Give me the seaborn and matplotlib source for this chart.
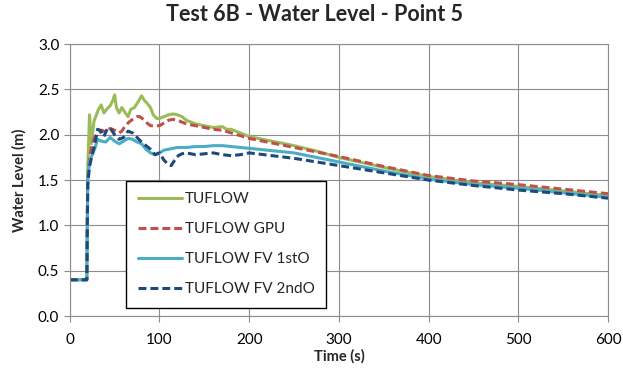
"""
Water level time series at Point 5 for Test 6B, four TUFLOW solvers.
"""

import matplotlib
matplotlib.use('Agg')
import matplotlib.pyplot as plt
import pandas as pd
import seaborn as sns

# Values
t_tuflow = [0, 19, 20, 22, 24, 27, 32, 35, 38, 41, 45, 48, 50, 52, 55, 58, 62, 65, 68, 72, 76, 80,
            83, 86, 90, 93, 97, 100, 105, 110, 115, 120, 125, 130, 135, 140, 150, 160, 170, 175,
            180, 190, 200, 225, 250, 275, 300, 350, 400, 450, 500, 550, 600]
wl_tuflow = [0.4, 0.4, 1.6, 2.22, 1.9, 2.15, 2.28, 2.33, 2.24, 2.28, 2.32, 2.38, 2.44, 2.3, 2.24,
             2.3, 2.24, 2.2, 2.28, 2.3, 2.36, 2.43, 2.38, 2.35, 2.3, 2.22, 2.18, 2.18, 2.2, 2.22,
             2.23, 2.22, 2.2, 2.16, 2.14, 2.12, 2.1, 2.08, 2.09, 2.06, 2.06, 2.02, 1.98, 1.93,
             1.88, 1.82, 1.75, 1.64, 1.54, 1.47, 1.43, 1.38, 1.33]

t_gpu = [0, 19, 20, 22, 25, 28, 32, 36, 40, 45, 50, 55, 58, 62, 66, 70, 75, 78, 82, 86, 90, 95,
         100, 105, 110, 115, 120, 125, 130, 140, 150, 160, 170, 180, 190, 200, 250, 300, 350,
         400, 450, 500, 550, 600]
wl_gpu = [0.4, 0.4, 1.5, 1.75, 1.9, 1.98, 2.02, 2.05, 2.03, 2.07, 2.05, 2.02, 2.04, 2.1, 2.14,
          2.17, 2.2, 2.2, 2.17, 2.13, 2.1, 2.1, 2.1, 2.13, 2.16, 2.17, 2.16, 2.14, 2.12, 2.1,
          2.08, 2.06, 2.05, 2.02, 1.99, 1.96, 1.86, 1.76, 1.65, 1.55, 1.49, 1.45, 1.40, 1.35]

t_fv1 = [0, 19, 20, 22, 25, 28, 31, 35, 40, 45, 50, 55, 60, 65, 70, 75, 80, 85, 90, 95, 100, 105,
         110, 120, 130, 140, 150, 160, 170, 180, 200, 250, 300, 350, 400, 450, 500, 550, 600]
wl_fv1 = [0.4, 0.4, 1.5, 1.7, 1.78, 1.85, 1.95, 1.93, 1.92, 1.97, 1.93, 1.9, 1.93, 1.96, 1.95,
          1.92, 1.9, 1.84, 1.8, 1.78, 1.8, 1.83, 1.84, 1.86, 1.86, 1.87, 1.87, 1.88, 1.88, 1.87,
          1.85, 1.8, 1.7, 1.6, 1.51, 1.45, 1.41, 1.36, 1.31]

t_fv2 = [0, 19, 20, 22, 25, 28, 31, 34, 38, 42, 46, 50, 55, 60, 65, 70, 75, 80, 85, 90, 95, 100,
         105, 110, 113, 117, 121, 125, 130, 140, 150, 160, 170, 180, 190, 200, 225, 250, 300,
         350, 400, 450, 500, 550, 600]
wl_fv2 = [0.4, 0.4, 1.45, 1.65, 1.78, 1.9, 2.06, 2.05, 1.98, 2.07, 2.06, 2.0, 1.95, 1.97, 2.04,
          2.02, 1.97, 1.92, 1.88, 1.84, 1.78, 1.8, 1.72, 1.67, 1.66, 1.72, 1.77, 1.79, 1.8, 1.78,
          1.79, 1.8, 1.78, 1.77, 1.78, 1.8, 1.77, 1.74, 1.66, 1.58, 1.50, 1.44, 1.39, 1.35, 1.30]

labels = ['TUFLOW', 'TUFLOW GPU', 'TUFLOW FV 1stO', 'TUFLOW FV 2ndO']
colors = ['#9BBB59', '#C0504D', '#4BACC6', '#1F497D']
dashed = [False, True, False, True]


def main():
    sns.set_style('white')
    plt.rcParams['font.family'] = ['Lato', 'DejaVu Sans']

    fig = plt.figure(figsize=(6.23, 3.74), dpi=100)
    ax = fig.add_axes([0.112, 0.155, 0.864, 0.727])

    series = [(t_tuflow, wl_tuflow), (t_gpu, wl_gpu), (t_fv1, wl_fv1), (t_fv2, wl_fv2)]
    for (t, wl), label, color, dash in zip(series, labels, colors, dashed):
        df = pd.DataFrame({'Time': t, 'Level': wl})
        sns.lineplot(data=df, x='Time', y='Level', ax=ax, color=color,
                     lw=2.2, label=label, sort=False)
        if dash:
            ax.lines[-1].set_dashes((2.6, 1.3))

    ax.set_xlim(0, 600)
    ax.set_ylim(0, 3.0)
    ax.set_xticks(range(0, 601, 100))
    ax.set_yticks([i * 0.5 for i in range(7)])
    ax.set_yticklabels([f'{i * 0.5:.1f}' for i in range(7)])
    ax.grid(True, color='#8c8c8c', lw=0.8)
    for s in ax.spines.values():
        s.set_color('#8c8c8c')
        s.set_linewidth(0.8)
    ax.tick_params(axis='both', length=4, color='#8c8c8c', labelsize=11,
                   labelcolor='#000000', direction='out', bottom=True, left=True)
    ax.tick_params(axis='x', pad=8)

    ax.set_xlabel('Time (s)', fontsize=10.5, fontweight='bold', labelpad=2)
    ax.set_ylabel('Water Level (m)', fontsize=10.5, fontweight='bold', labelpad=8)
    fig.suptitle('Test 6B - Water Level - Point 5', fontsize=15.5, fontweight='bold',
                 x=0.505, y=0.99)

    leg = ax.legend(loc='lower left', bbox_to_anchor=(0.105, 0.03), fontsize=11,
                    frameon=True, fancybox=False, handlelength=2.9, handletextpad=0.2,
                    labelspacing=1.05, borderpad=0.75, borderaxespad=0)
    leg.get_frame().set_edgecolor('black')
    leg.get_frame().set_linewidth(1.0)
    leg.get_frame().set_alpha(1)

    fig.savefig('out.png', dpi=100)


if __name__ == '__main__':
    main()
